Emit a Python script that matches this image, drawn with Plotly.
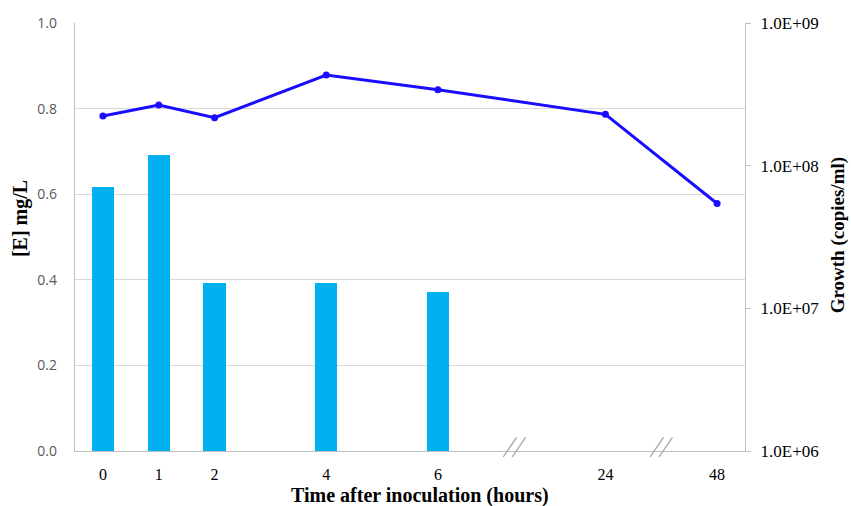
import plotly.graph_objects as go

# Sampling times (hours after inoculation)
times = [0, 1, 2, 4, 6, 24, 48]
time_labels = ["0", "1", "2", "4", "6", "24", "48"]

# [E] concentration, mg/L (measured up to 6 h)
bar_times = [0, 1, 2, 4, 6]
conc_mg_l = [0.616, 0.691, 0.392, 0.392, 0.371]

# Growth, copies/ml
growth = [2.23e8, 2.66e8, 2.17e8, 4.32e8, 3.41e8, 2.29e8, 5.43e7]

# Horizontal slot for each time on the broken axis
slot = {0: 0, 1: 1, 2: 2, 4: 4, 6: 6, 24: 9, 48: 11}
break_slots = [7.37, 10.0]

serif = "Liberation Serif, Times New Roman, serif"
sans = "Open Sans, Liberation Sans, Arial, sans-serif"
title_font = dict(family=serif, size=20, color="black")

fig = go.Figure()
fig.add_trace(go.Bar(
    x=[slot[t] for t in bar_times], y=conc_mg_l,
    width=0.4, marker=dict(color="#00b0f0", line=dict(width=0)),
    yaxis="y", showlegend=False,
))
fig.add_trace(go.Scatter(
    x=[slot[t] for t in times], y=growth,
    mode="lines+markers",
    line=dict(color="#1a0dff", width=3),
    marker=dict(color="#1a0dff", size=7),
    yaxis="y2", showlegend=False,
))

# Axis break marks "//"
for b in break_slots:
    for dx in (-0.08, 0.08):
        fig.add_shape(type="line", xref="x", yref="paper",
                      x0=b + dx - 0.12, x1=b + dx + 0.12, y0=-0.014, y1=0.032,
                      line=dict(color="#a6a6a6", width=1.3))

# Axis titles
fig.add_annotation(text="<b>Time after inoculation (hours)</b>", font=title_font,
                   xref="paper", yref="paper", x=0.515, y=-0.105,
                   showarrow=False, xanchor="center", yanchor="middle")
fig.add_annotation(text="<b>[E] mg/L</b>", font=title_font, textangle=-90,
                   xref="paper", yref="paper", x=-0.082, y=0.542,
                   showarrow=False, xanchor="center", yanchor="middle")
fig.add_annotation(text="<b>Growth (copies/ml)</b>",
                   font=dict(family=serif, size=19, color="black"), textangle=-90,
                   xref="paper", yref="paper", x=1.138, y=0.505,
                   showarrow=False, xanchor="center", yanchor="middle")

fig.update_layout(
    width=851, height=506,
    margin=dict(l=75, r=106, t=23, b=55),
    plot_bgcolor="white", paper_bgcolor="white",
    bargap=0,
    xaxis=dict(
        range=[-0.5, 11.5],
        tickmode="array",
        tickvals=[slot[t] for t in times], ticktext=time_labels,
        tickfont=dict(family=serif, size=16, color="black"),
        showgrid=False, zeroline=False,
        showline=True, linecolor="#bfbfbf", linewidth=1.3,
        ticks="", ticklabelstandoff=9,
    ),
    yaxis=dict(
        range=[0, 1.0], dtick=0.2, tickformat=".1f",
        tickfont=dict(family=sans, size=14, color="#595959"),
        showgrid=True, gridcolor="#d9d9d9", gridwidth=1.3,
        zeroline=False, showline=True, linecolor="#bfbfbf", linewidth=1.3,
        ticks="", ticklabelstandoff=14,
    ),
    yaxis2=dict(
        type="log", range=[6, 9], overlaying="y", side="right",
        tickmode="array", tickvals=[1e6, 1e7, 1e8, 1e9],
        ticktext=["1.0E+06", "1.0E+07", "1.0E+08", "1.0E+09"],
        tickfont=dict(family=serif, size=17, color="black"),
        showgrid=False, zeroline=False,
        showline=True, linecolor="#bfbfbf", linewidth=1.3,
        ticks="outside", ticklen=5, tickcolor="#bfbfbf", tickwidth=1.3,
        ticklabelstandoff=6,
    ),
)

fig.write_html("out.html")
